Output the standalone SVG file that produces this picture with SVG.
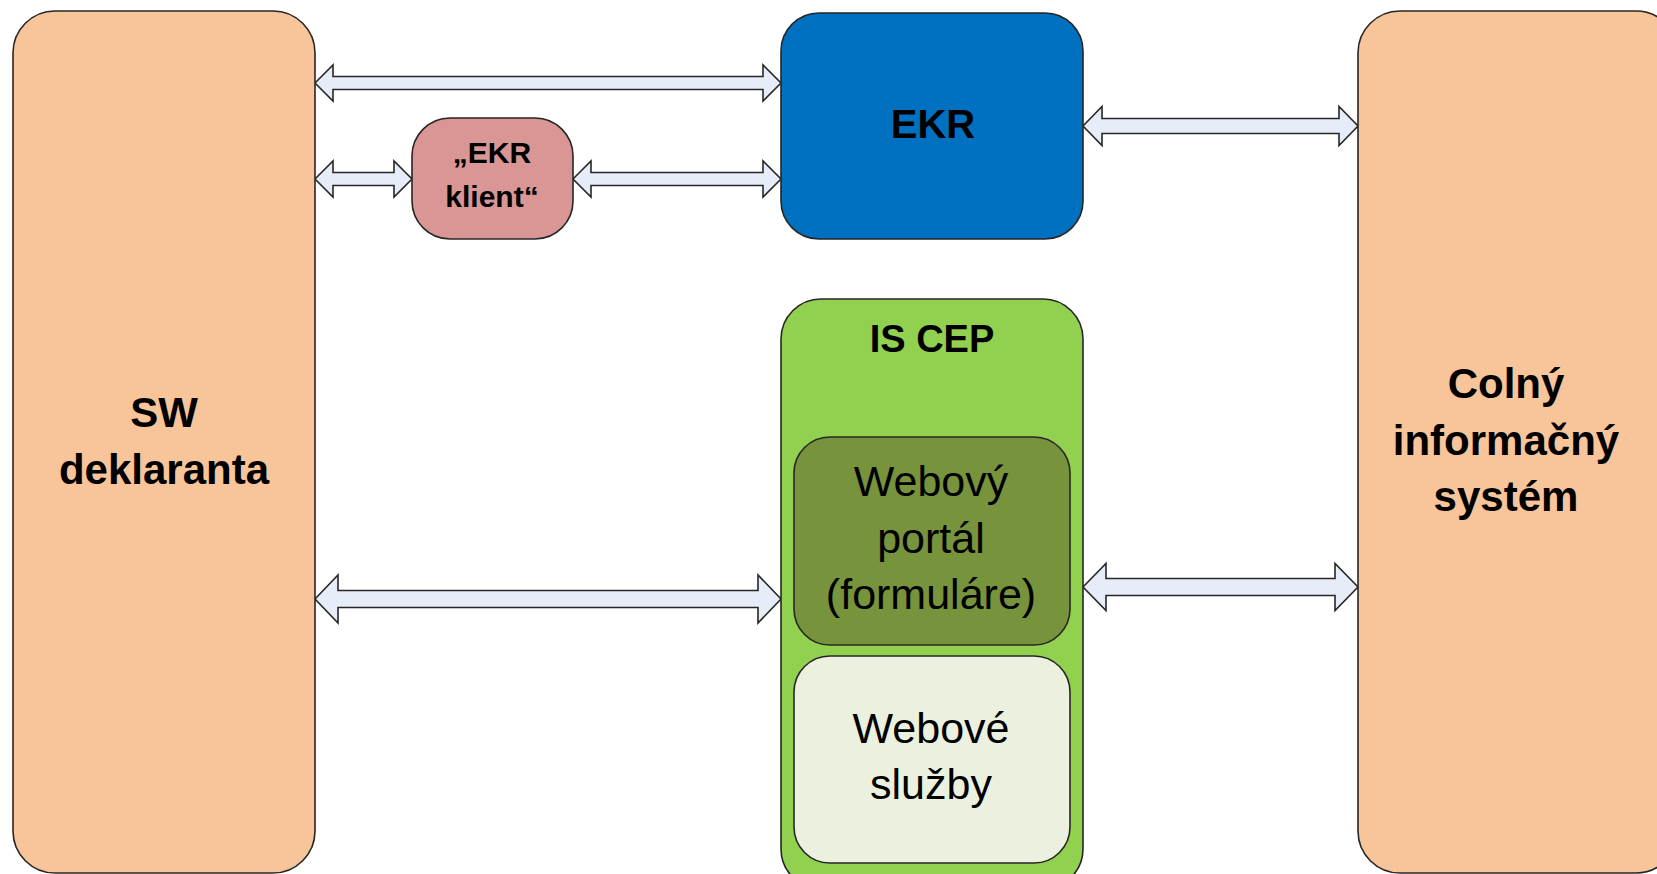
<svg xmlns="http://www.w3.org/2000/svg" width="1657" height="874" viewBox="0 0 1657 874">
<style>
.box{stroke:#262626;stroke-width:1.6}
.arr{fill:#E6EDF8;stroke:#262626;stroke-width:1.6;stroke-linejoin:miter}
.b{font-family:"Liberation Sans",Arial,sans-serif;font-weight:bold;fill:#000;text-anchor:middle}
.r{font-family:"Liberation Sans",Arial,sans-serif;fill:#000;text-anchor:middle}
</style>
<rect width="1657" height="874" fill="#fff"/>
<g id="connectors">
<polygon class="arr" points="315,83 333,65 333,76.5 763,76.5 763,65 781,83 763,101 763,89.5 333,89.5 333,101"/>
<polygon class="arr" points="315,179 333,161 333,172.5 394,172.5 394,161 412,179 394,197 394,185.5 333,185.5 333,197"/>
<polygon class="arr" points="573,179 591,161 591,172.5 763,172.5 763,161 781,179 763,197 763,185.5 591,185.5 591,197"/>
<polygon class="arr" points="1083,126 1102,106.5 1102,118.5 1339,118.5 1339,106.5 1358,126 1339,145.5 1339,133.5 1102,133.5 1102,145.5"/>
<polygon class="arr" points="315,599 338,575 338,590.5 758,590.5 758,575 781,599 758,623 758,607.5 338,607.5 338,623"/>
<polygon class="arr" points="1083,587 1106,563.5 1106,578.5 1335,578.5 1335,563.5 1358,587 1335,610.5 1335,595.5 1106,595.5 1106,610.5"/>
</g>
<g id="sw">
<rect class="box" x="13" y="11" width="302" height="862" rx="42" fill="#F8C49A"/>
<text class="b" font-size="42" x="164" y="427">SW</text>
<text class="b" font-size="42" x="164" y="484">deklaranta</text>
</g>
<g id="ekr">
<rect class="box" x="781" y="13" width="302" height="226" rx="38" fill="#0070C0"/>
<text class="b" font-size="40" x="933" y="138">EKR</text>
</g>
<g id="ekr-klient">
<rect class="box" x="412" y="118" width="161" height="121" rx="38" fill="#D99694"/>
<text class="b" font-size="30" x="492" y="163">„EKR</text>
<text class="b" font-size="30" x="492" y="207">klient“</text>
</g>
<g id="iscep">
<rect class="box" x="781" y="299" width="302" height="590" rx="40" fill="#92D050"/>
<text class="b" font-size="38" x="932" y="352">IS CEP</text>
</g>
<g id="portal">
<rect class="box" x="794" y="437" width="276" height="208" rx="36" fill="#77933C"/>
<text class="r" font-size="43" x="931" y="496">Webový</text>
<text class="r" font-size="43" x="931" y="553">portál</text>
<text class="r" font-size="43" x="931" y="609">(formuláre)</text>
</g>
<g id="sluzby">
<rect class="box" x="794" y="656" width="276" height="207" rx="36" fill="#EBF1DE"/>
<text class="r" font-size="43" x="931" y="743">Webové</text>
<text class="r" font-size="43" x="931" y="799">služby</text>
</g>
<g id="colny">
<rect class="box" x="1358" y="11" width="320" height="862" rx="42" fill="#F8C49A"/>
<text class="b" font-size="42" x="1506" y="398">Colný</text>
<text class="b" font-size="42" x="1506" y="455">informačný</text>
<text class="b" font-size="42" x="1506" y="511">systém</text>
</g>
</svg>
